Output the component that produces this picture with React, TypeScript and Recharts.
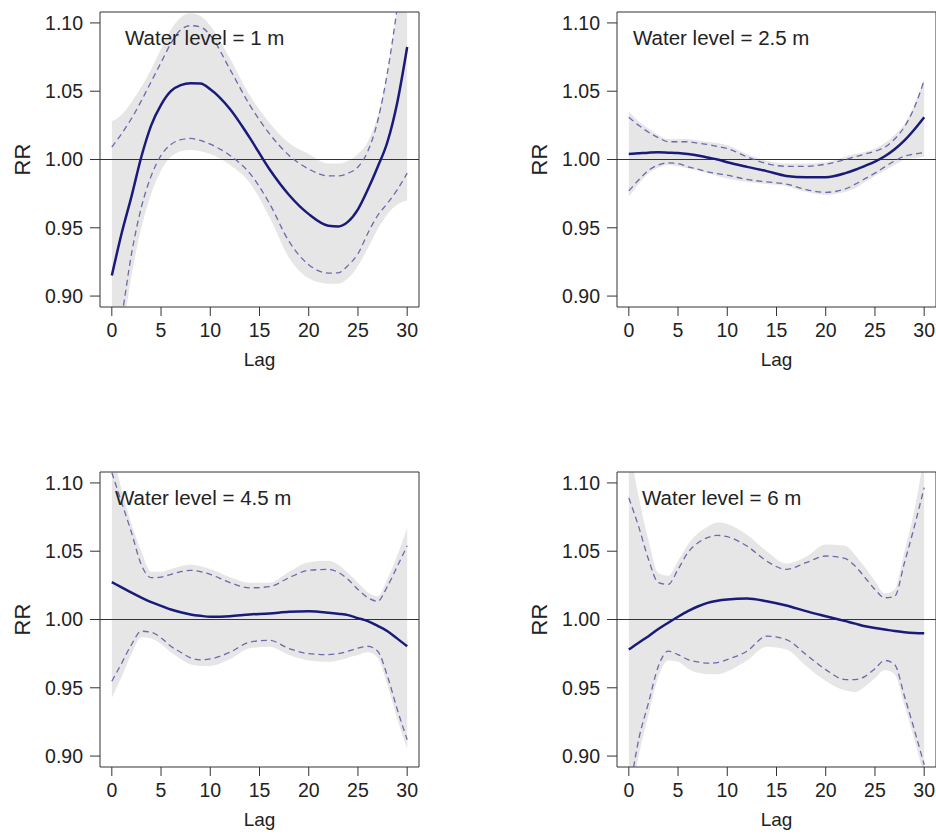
import {
  Area,
  ComposedChart,
  Line,
  ReferenceArea,
  ReferenceLine,
  XAxis,
  YAxis,
} from "recharts";

const FONT = "'Liberation Sans', Arial, sans-serif";

const LAGS = [0, 1, 2, 3, 4, 5, 6, 7, 8, 9, 10, 12, 14, 16, 18, 20, 22, 23, 24, 25, 26, 27, 28, 29, 30];
const X_TICKS = [0, 5, 10, 15, 20, 25, 30];
const Y_TICKS = [0.9, 0.95, 1.0, 1.05, 1.1];

// water level = 1 m
const fit1 = [0.915, 0.946, 0.973, 1.002, 1.025, 1.04, 1.05, 1.0545, 1.0558, 1.0556, 1.0515, 1.037, 1.016, 0.993, 0.974, 0.96, 0.9515, 0.951, 0.9545, 0.9635, 0.978, 0.9945, 1.013, 1.042, 1.0824];
const hi1 = [1.009, 1.019, 1.03, 1.043, 1.057, 1.071, 1.085, 1.095, 1.098, 1.097, 1.091, 1.066, 1.04, 1.019, 1.003, 0.993, 0.988, 0.988, 0.99, 0.9945, 1.006, 1.028, 1.064, 1.112, 1.17];
const lo1 = [0.85, 0.885, 0.931, 0.965, 0.988, 1.003, 1.011, 1.0145, 1.0154, 1.014, 1.0112, 1.003, 0.99, 0.968, 0.94, 0.923, 0.9168, 0.917, 0.9225, 0.931, 0.946, 0.959, 0.968, 0.978, 0.99];
const bandHi1 = [1.028, 1.033, 1.042, 1.053, 1.066, 1.081, 1.095, 1.104, 1.107, 1.105, 1.098, 1.074, 1.047, 1.027, 1.012, 1.004, 0.997, 0.997, 0.999, 1.004, 1.013, 1.032, 1.065, 1.11, 1.17];
const bandLo1 = [0.84, 0.87, 0.915, 0.95, 0.975, 0.992, 1.002, 1.006, 1.007, 1.006, 1.004, 0.996, 0.983, 0.958, 0.928, 0.913, 0.909, 0.909, 0.913, 0.922, 0.935, 0.949, 0.96, 0.967, 0.97];

// water level = 2.5 m
const fit2 = [1.004, 1.0045, 1.005, 1.0053, 1.005, 1.0047, 1.004, 1.003, 1.0015, 1.0, 0.998, 0.9946, 0.9915, 0.988, 0.987, 0.987, 0.99, 0.9925, 0.9954, 0.9985, 1.0024, 1.0075, 1.014, 1.022, 1.031];
const hi2 = [1.031, 1.025, 1.02, 1.016, 1.013, 1.013, 1.013, 1.012, 1.011, 1.0095, 1.008, 1.002, 0.997, 0.995, 0.995, 0.9966, 1.0, 1.002, 1.004, 1.006, 1.009, 1.015, 1.024, 1.038, 1.058];
const lo2 = [0.977, 0.985, 0.992, 0.996, 0.9975, 0.997, 0.9946, 0.993, 0.991, 0.9897, 0.9885, 0.9854, 0.9836, 0.982, 0.978, 0.976, 0.9785, 0.982, 0.986, 0.99, 0.9946, 0.999, 1.0024, 1.004, 1.005];
const bandHi2 = [1.035, 1.028, 1.0227, 1.018, 1.015, 1.015, 1.015, 1.014, 1.013, 1.012, 1.0105, 1.004, 0.999, 0.997, 0.997, 0.998, 1.002, 1.004, 1.0056, 1.008, 1.012, 1.018, 1.026, 1.04, 1.059];
const bandLo2 = [0.9727, 0.982, 0.99, 0.994, 0.996, 0.995, 0.9934, 0.992, 0.99, 0.988, 0.986, 0.9836, 0.982, 0.9805, 0.9763, 0.974, 0.9763, 0.979, 0.9836, 0.988, 0.992, 0.996, 1.0, 1.001, 1.002];

// water level = 4.5 m
const fit3 = [1.0274, 1.0235, 1.0196, 1.016, 1.0127, 1.01, 1.0073, 1.0053, 1.0037, 1.0027, 1.002, 1.0024, 1.0037, 1.0044, 1.0056, 1.006, 1.005, 1.0042, 1.0032, 1.001, 0.9988, 0.9953, 0.9914, 0.986, 0.9804];
const hi3 = [1.1076, 1.0856, 1.0636, 1.04, 1.0306, 1.031, 1.033, 1.035, 1.036, 1.035, 1.033, 1.027, 1.0232, 1.024, 1.0306, 1.036, 1.0367, 1.0345, 1.0293, 1.022, 1.016, 1.0134, 1.0244, 1.039, 1.054];
const lo3 = [0.9548, 0.968, 0.9817, 0.9914, 0.9907, 0.9866, 0.9804, 0.976, 0.9719, 0.9705, 0.9711, 0.976, 0.9834, 0.9848, 0.9787, 0.975, 0.9743, 0.975, 0.9768, 0.979, 0.9804, 0.9768, 0.9584, 0.934, 0.912];
const bandHi3 = [1.125, 1.095, 1.07, 1.05, 1.035, 1.035, 1.037, 1.039, 1.04, 1.039, 1.037, 1.031, 1.027, 1.027, 1.035, 1.042, 1.043, 1.04, 1.034, 1.027, 1.02, 1.017, 1.03, 1.047, 1.067];
const bandLo3 = [0.9425, 0.958, 0.975, 0.987, 0.986, 0.982, 0.976, 0.971, 0.967, 0.966, 0.966, 0.971, 0.979, 0.98, 0.974, 0.97, 0.969, 0.97, 0.972, 0.974, 0.976, 0.972, 0.952, 0.927, 0.905];

// water level = 6 m
const fit4 = [0.978, 0.983, 0.9878, 0.993, 0.9976, 1.002, 1.0061, 1.0095, 1.0122, 1.0138, 1.0147, 1.0154, 1.0134, 1.0103, 1.0061, 1.0024, 0.9988, 0.997, 0.995, 0.9938, 0.9927, 0.9915, 0.9907, 0.9902, 0.99];
const hi4 = [1.089, 1.068, 1.044, 1.027, 1.0257, 1.0367, 1.049, 1.056, 1.06, 1.0616, 1.0606, 1.0538, 1.0428, 1.0367, 1.0416, 1.0465, 1.0445, 1.039, 1.0306, 1.022, 1.0159, 1.017, 1.0416, 1.068, 1.0966];
const lo4 = [0.87, 0.912, 0.939, 0.9658, 0.9768, 0.9743, 0.9707, 0.969, 0.968, 0.9685, 0.9707, 0.9768, 0.9878, 0.9853, 0.9743, 0.9633, 0.956, 0.956, 0.9584, 0.964, 0.97, 0.967, 0.9438, 0.9193, 0.8936];
const bandHi4 = [1.13, 1.09, 1.058, 1.034, 1.032, 1.043, 1.055, 1.063, 1.068, 1.071, 1.07, 1.062, 1.05, 1.041, 1.046, 1.055, 1.054, 1.047, 1.038, 1.028, 1.019, 1.022, 1.05, 1.08, 1.12];
const bandLo4 = [0.86, 0.9, 0.93, 0.958, 0.97, 0.969, 0.964, 0.961, 0.96, 0.96, 0.962, 0.97, 0.98, 0.978, 0.966, 0.955, 0.948, 0.947, 0.951, 0.957, 0.963, 0.96, 0.937, 0.912, 0.885];

const X_DOMAIN: [number, number] = [-1.2, 31.2];
const Y_DOMAIN: [number, number] = [0.892, 1.108];

function RRLabel(props: any) {
  const vb = props.viewBox || { x: 0, y: 12, width: 100, height: 295 };
  const x = vb.x + 30;
  const y = vb.y + vb.height / 2;
  return (
    <text
      x={x}
      y={y}
      transform={`rotate(-90 ${x} ${y})`}
      textAnchor="middle"
      fill="#222"
      fontSize={22}
      fontFamily={FONT}
    >
      RR
    </text>
  );
}

function LagLabel(props: any) {
  const vb = props.viewBox || { x: 100, y: 307, width: 319, height: 62 };
  return (
    <text
      x={vb.x + vb.width / 2}
      y={vb.y + 59}
      textAnchor="middle"
      fill="#222"
      fontSize={19}
      fontFamily={FONT}
    >
      Lag
    </text>
  );
}

function Panel({
  title,
  titleX,
  left,
  top,
  fit,
  hi,
  lo,
  bandHi,
  bandLo,
}: {
  title: string;
  titleX: number;
  left: number;
  top: number;
  fit: number[];
  hi: number[];
  lo: number[];
  bandHi: number[];
  bandLo: number[];
}) {
  const data = LAGS.map((lag, i) => ({
    lag,
    fit: fit[i],
    hi: hi[i],
    lo: lo[i],
    band: [bandLo[i], bandHi[i]],
  }));

  return (
    <div style={{ position: "absolute", left, top, width: 468, height: 420 }}>
      <ComposedChart
        width={468}
        height={420}
        data={data}
        margin={{ top: 12, right: 49, bottom: 51, left: 0 }}
      >
        <XAxis
          dataKey="lag"
          type="number"
          domain={X_DOMAIN}
          allowDataOverflow
          ticks={X_TICKS}
          interval={0}
          height={62}
          axisLine={false}
          tickSize={9}
          tickMargin={7}
          tickLine={{ stroke: "#333" }}
          tick={{ fill: "#222", fontSize: 19.5, fontFamily: FONT }}
          label={<LagLabel />}
        />
        <YAxis
          type="number"
          domain={Y_DOMAIN}
          allowDataOverflow
          ticks={Y_TICKS}
          interval={0}
          width={100}
          axisLine={false}
          tickSize={10}
          tickMargin={7}
          tickLine={{ stroke: "#333" }}
          tick={{ fill: "#222", fontSize: 19.5, fontFamily: FONT }}
          tickFormatter={(v: number) => v.toFixed(2)}
          label={<RRLabel />}
        />
        <Area
          dataKey="band"
          type="monotone"
          stroke="none"
          fill="#e6e6e6"
          fillOpacity={1}
          dot={false}
          activeDot={false}
          isAnimationActive={false}
        />
        <ReferenceLine y={1} stroke="#333" strokeWidth={1} />
        <Line
          dataKey="hi"
          type="monotone"
          stroke="#6a6aac"
          strokeWidth={1.3}
          strokeDasharray="6 4"
          dot={false}
          activeDot={false}
          isAnimationActive={false}
        />
        <Line
          dataKey="lo"
          type="monotone"
          stroke="#6a6aac"
          strokeWidth={1.3}
          strokeDasharray="6 4"
          dot={false}
          activeDot={false}
          isAnimationActive={false}
        />
        <Line
          dataKey="fit"
          type="monotone"
          stroke="#1a1a7a"
          strokeWidth={2.5}
          dot={false}
          activeDot={false}
          isAnimationActive={false}
        />
        <ReferenceArea
          x1={X_DOMAIN[0]}
          x2={X_DOMAIN[1]}
          y1={Y_DOMAIN[0]}
          y2={Y_DOMAIN[1]}
          fill="none"
          stroke="#333"
          strokeWidth={1}
        />
      </ComposedChart>
      <div
        style={{
          position: "absolute",
          left: titleX,
          top: 28,
          fontSize: 20.5,
          lineHeight: "20px",
          fontFamily: FONT,
          color: "#222",
          whiteSpace: "nowrap",
        }}
      >
        {title}
      </div>
    </div>
  );
}

export default function App() {
  return (
    <div
      style={{
        position: "absolute",
        left: 0,
        top: 0,
        width: 936,
        height: 834,
        overflow: "hidden",
        background: "#fff",
      }}
    >
      <Panel title="Water level = 1 m" titleX={125} left={0} top={0} fit={fit1} hi={hi1} lo={lo1} bandHi={bandHi1} bandLo={bandLo1} />
      <Panel title="Water level = 2.5 m" titleX={116} left={517} top={0} fit={fit2} hi={hi2} lo={lo2} bandHi={bandHi2} bandLo={bandLo2} />
      <Panel title="Water level = 4.5 m" titleX={115} left={0} top={460} fit={fit3} hi={hi3} lo={lo3} bandHi={bandHi3} bandLo={bandLo3} />
      <Panel title="Water level = 6 m" titleX={125} left={517} top={460} fit={fit4} hi={hi4} lo={lo4} bandHi={bandHi4} bandLo={bandLo4} />
    </div>
  );
}
